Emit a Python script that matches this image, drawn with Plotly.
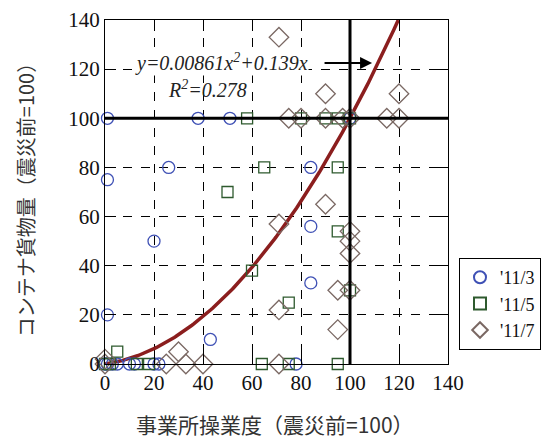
import numpy as np
import plotly.graph_objects as go

# '11/3 survey
mar_x = [1, 38, 51, 100, 1, 26, 84, 20, 84, 84, 1, 43, 78, 0, 1, 3, 5, 10, 12, 20, 22]
mar_y = [100, 100, 100, 100, 75, 80, 80, 50, 56, 33, 20, 10, 0, 0, 0, 0, 0, 0, 0, 0, 0]

# '11/5 survey
may_x = [58, 80, 90, 95, 100, 65, 95, 50, 60, 95, 100, 75, 5, 64, 75, 95, 0, 2, 13, 18]
may_y = [100, 100, 100, 100, 100, 80, 80, 70, 38, 54, 30, 25, 5, 0, 0, 0, 0, 0, 0, 0]

# '11/7 survey
jul_x = [71, 90, 120, 75, 80, 90, 97, 100, 115, 120, 90, 71, 100, 100, 100, 95, 100,
         71, 95, 30, 25, 33, 40, 71, 0, 0]
jul_y = [133, 110, 110, 100, 100, 100, 100, 100, 100, 100, 65, 57, 54, 50, 45, 30, 30,
         22, 14, 5, 0, 0, 0, 0, 0, 2]

# quadratic regression y = a x^2 + b x
coef_a = 0.00861
coef_b = 0.139
r_squared = 0.278

axis_ticks = [0, 20, 40, 60, 80, 100, 120, 140]
legend_names = ["'11/3", "'11/5", "'11/7"]

serif = "Liberation Serif, Times New Roman, serif"
cjk = "Noto Sans CJK JP, sans-serif"

fig = go.Figure()

# fitted curve, up to where it leaves the top of the frame
x_end = (-coef_b + np.sqrt(coef_b ** 2 + 4 * coef_a * 140)) / (2 * coef_a)
xf = np.linspace(0, x_end, 200)
yf = coef_a * xf ** 2 + coef_b * xf
fig.add_trace(go.Scatter(x=xf, y=yf, mode="lines", showlegend=False,
                         line=dict(color="#8B1E1E", width=3.5), hoverinfo="skip"))

fig.add_trace(go.Scatter(x=mar_x, y=mar_y, mode="markers", name=legend_names[0],
                         cliponaxis=False,
                         marker=dict(symbol="circle-open", size=12,
                                     color="#3F51B5", line=dict(width=1.3))))
fig.add_trace(go.Scatter(x=may_x, y=may_y, mode="markers", name=legend_names[1],
                         cliponaxis=False,
                         marker=dict(symbol="square-open", size=11,
                                     color="#2E5A2E", line=dict(width=1.3))))
fig.add_trace(go.Scatter(x=jul_x, y=jul_y, mode="markers", name=legend_names[2],
                         cliponaxis=False,
                         marker=dict(symbol="diamond-open", size=15,
                                     color="#7A6863", line=dict(width=1.3))))

# reference lines at the pre-disaster level
fig.add_shape(type="line", x0=0, x1=140, y0=100, y1=100, xref="x", yref="y",
              line=dict(color="black", width=3), layer="above")
fig.add_shape(type="line", x0=100, x1=100, y0=0, y1=140, xref="x", yref="y",
              line=dict(color="black", width=3), layer="above")

# regression equation and arrow
fig.add_annotation(x=47.5, y=122.8, xref="x", yref="y", showarrow=False,
                   text="<i>y=0.00861x<sup>2</sup>+0.139x</i>", borderpad=0,
                   font=dict(family=serif, size=20, color="#222"), bgcolor="white")
fig.add_annotation(x=42, y=111.8, xref="x", yref="y", showarrow=False,
                   text="<i>R<sup>2</sup>=%.3f</i>" % r_squared, borderpad=0,
                   font=dict(family=serif, size=20, color="#222"))
fig.add_annotation(x=109, y=122.5, ax=89, ay=122.5, xref="x", yref="y",
                   axref="x", ayref="y", showarrow=True, arrowhead=2,
                   arrowsize=1.2, arrowwidth=2, arrowcolor="black", text="")

axis_common = dict(range=[0, 140], tickvals=axis_ticks, ticks="inside", ticklen=11,
                   tickcolor="black", showline=True, linecolor="black", linewidth=1.3,
                   mirror="ticks", showgrid=True, gridcolor="black", gridwidth=1,
                   griddash="dash", zeroline=False, automargin=False,
                   tickfont=dict(family=serif, size=21, color="#111"))

fig.update_xaxes(**axis_common)
fig.update_yaxes(**axis_common)

# axis titles
fig.add_annotation(x=0.497, y=-0.174, xref="paper", yref="paper", showarrow=False,
                   text="事業所操業度（震災前=100）", xanchor="center", yanchor="middle",
                   font=dict(family=cjk, size=21, color="#333"))
fig.add_annotation(x=-0.233, y=0.491, xref="paper", yref="paper", showarrow=False,
                   text="コンテナ貨物量（震災前=100）", textangle=-90,
                   xanchor="center", yanchor="middle",
                   font=dict(family=cjk, size=20, color="#333"))

fig.update_layout(
    width=544, height=439,
    margin=dict(l=105, r=96, t=20, b=75),
    plot_bgcolor="white", paper_bgcolor="white",
    legend=dict(xref="container", yref="container", x=459 / 544, y=1 - 258 / 439,
                xanchor="left", yanchor="top",
                bordercolor="black", borderwidth=1, bgcolor="white",
                font=dict(family=serif, size=18, color="#111"),
                itemwidth=30, itemsizing="constant", tracegroupgap=0),
)

fig.write_html("out.html")
